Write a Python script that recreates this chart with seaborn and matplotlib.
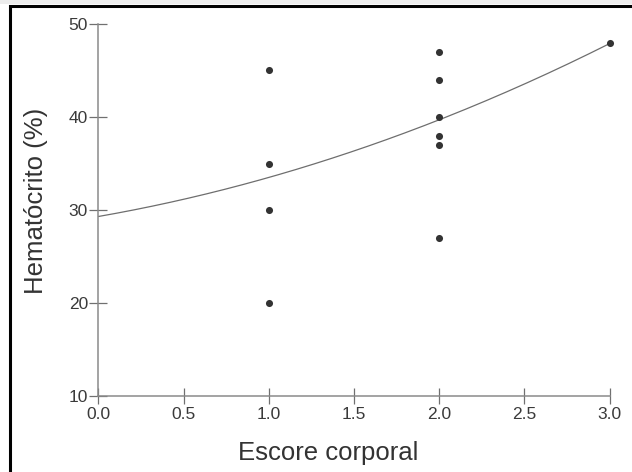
import numpy as np
import pandas as pd
import matplotlib
matplotlib.use("Agg")
import matplotlib.pyplot as plt
from matplotlib.patches import Rectangle
import seaborn as sns

# Body-condition score vs. haematocrit observations
escore = [1, 1, 1, 1, 2, 2, 2, 2, 2, 2, 3]
hematocrito = [45, 35, 30, 20, 47, 44, 40, 38, 37, 27, 48]

# Fitted quadratic trend: y = a + b*x + c*x^2
coef_a = 29.3
coef_b = 3.2
coef_c = 1.0

x_ticks = [0.0, 0.5, 1.0, 1.5, 2.0, 2.5, 3.0]
y_ticks = [10, 20, 30, 40, 50]

sns.set_theme(style="ticks")
plt.rcParams["font.family"] = ["Liberation Sans", "DejaVu Sans"]

fig = plt.figure(figsize=(6.32, 4.72), dpi=100)
fig.patch.set_facecolor("white")
ax = fig.add_axes([98.3 / 632, 1 - 396 / 472, 511.4 / 632, 372 / 472])

points = pd.DataFrame({"Escore corporal": escore, "Hematócrito (%)": hematocrito})
sns.scatterplot(data=points, x="Escore corporal", y="Hematócrito (%)", ax=ax,
                color="#333333", s=26, linewidth=0, zorder=3, clip_on=False)

xs = np.linspace(0, 3, 200)
trend = pd.DataFrame({"x": xs, "y": coef_a + coef_b * xs + coef_c * xs ** 2})
sns.lineplot(data=trend, x="x", y="y", ax=ax, color="#6e6e6e", linewidth=0.9, zorder=2)

ax.set_xlim(0, 3)
ax.set_ylim(10, 50)
ax.set_xticks(x_ticks)
ax.set_xticklabels([f"{t:.1f}" for t in x_ticks])
ax.set_yticks(y_ticks)
ax.set_yticklabels([str(t) for t in y_ticks])

for side in ("top", "right"):
    ax.spines[side].set_visible(False)
for side in ("left", "bottom"):
    ax.spines[side].set_color("#8a8a8a")
    ax.spines[side].set_linewidth(1.1)

ax.tick_params(axis="y", direction="inout", length=13, width=0.9, color="#707070",
               labelsize=12.5, labelcolor="#3a3a3a", pad=1)
ax.tick_params(axis="x", direction="inout", length=11, width=0.9, color="#707070",
               labelsize=12.5, labelcolor="#3a3a3a", pad=2.5)

ax.set_xlabel("Escore corporal", fontsize=18.5, color="#333333")
ax.set_ylabel("Hematócrito (%)", fontsize=18.5, color="#333333")
ax.xaxis.set_label_coords(0.449, -0.12)
ax.yaxis.set_label_coords(-0.098, 0.524)

# outer frame around the figure
fig.patches.append(Rectangle((0, 1 - 4 / 472), 1, 4 / 472, transform=fig.transFigure,
                             facecolor="#ececec", edgecolor="none", zorder=0))
fig.patches.append(Rectangle((10.5 / 632, -0.1), 1.2, 1 - 5.5 / 472 + 0.1,
                             transform=fig.transFigure, facecolor="none",
                             edgecolor="black", linewidth=2.2, clip_on=False, zorder=5))

fig.savefig("out.png", dpi=100)
